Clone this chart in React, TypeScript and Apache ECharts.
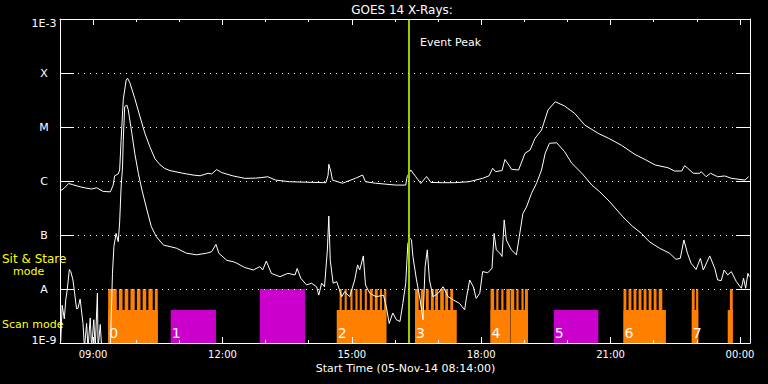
import React, { useEffect, useRef } from 'react';
import * as echarts from 'echarts';

const FONT = '"DejaVu Sans", sans-serif';
const ORANGE = '#ff8000';
const MAGENTA = '#cc00cc';
const PEAK_COLOR = '#99cc00';
const YELLOW = '#ffff00';

// Axis ranges (hours of 05-Nov-14; values >= 24 are next day)
const START_HOUR = 8 + 14 / 60;
const END_HOUR = START_HOUR + 16;
const Y_MIN = 1e-9;
const Y_MAX = 1e-3;
const MODE_MID = 4.1e-9; // top of block base
const MODE_TOP = 1e-8; // top of raster spikes / full blocks

const xMajorHours = [9, 12, 15, 18, 21, 24];
const xTickLabels = ['09:00', '12:00', '15:00', '18:00', '21:00', '00:00'];
const xMinorHours = [9, 10, 11, 12, 13, 14, 15, 16, 17, 18, 19, 20, 21, 22, 23, 24];
const yTickLabels = ['1E-9', 'A', 'B', 'C', 'M', 'X', '1E-3'];

const titleText = 'GOES 14 X-Rays:';
const xAxisTitle = 'Start Time (05-Nov-14 08:14:00)';
const eventPeakTime = '16:20';
const eventPeakLabel = 'Event Peak';

// GOES long channel (1-8 A)
const longTimes = ['08:14','08:20','08:26','08:31','08:42','08:50','08:58','09:05','09:14','09:24','09:28','09:30','09:35','09:37','09:39','09:42','09:46','09:48','09:51','09:58','10:05','10:12','10:19','10:26','10:33','10:40','10:47','11:05','11:19','11:29','11:40','11:45','11:52','11:59','12:15','12:31','12:46','12:55','13:03','13:14','13:33','13:56','14:24','14:27','14:28','14:31','14:33','14:47','15:05','15:15','15:19','15:33','16:01','16:15','16:17','16:22','16:29','16:36','16:44','16:50','17:06','17:23','17:43','18:02','18:11','18:16','18:20','18:29','18:33','18:39','18:42','18:52','19:01','19:08','19:15','19:24','19:33','19:43','19:56','20:10','20:24','20:43','20:57','21:15','21:34','21:48','22:02','22:20','22:29','22:39','22:43','22:47','22:55','23:04','23:06','23:13','23:19','23:29','23:39','23:48','00:07','00:12'];
const longFlux = [6.5e-7,7.4e-7,9.0e-7,8.6e-7,7.8e-7,7.4e-7,7.1e-7,7.5e-7,6.4e-7,6.3e-7,8.4e-7,1.25e-6,1.35e-6,1.6e-6,5.7e-6,3.2e-5,7.4e-5,8.0e-5,6.7e-5,3.4e-5,1.6e-5,7.7e-6,4.3e-6,2.6e-6,2.0e-6,1.7e-6,1.56e-6,1.39e-6,1.29e-6,1.25e-6,1.39e-6,1.35e-6,1.63e-6,1.43e-6,1.24e-6,1.12e-6,1.13e-6,1.16e-6,1.2e-6,1.04e-6,9.7e-7,9.5e-7,9.3e-7,1.29e-6,2.04e-6,1.47e-6,1.04e-6,9.1e-7,1.12e-6,1.29e-6,9.7e-7,9.1e-7,8.4e-7,8.4e-7,1.2e-6,1.6e-6,1.2e-6,9.0e-7,1.21e-6,9.4e-7,9.3e-7,9.3e-7,9.7e-7,1.12e-6,1.25e-6,1.72e-6,1.49e-6,1.56e-6,2.5e-6,1.94e-6,1.65e-6,1.6e-6,3.26e-6,3.75e-6,6.2e-6,8.8e-6,2.07e-5,2.94e-5,2.45e-5,1.79e-5,1.09e-5,7.6e-6,6.2e-6,4.6e-6,3.1e-6,2.5e-6,1.98e-6,1.76e-6,1.53e-6,1.53e-6,1.92e-6,1.74e-6,1.39e-6,1.39e-6,1.49e-6,1.2e-6,1.39e-6,1.2e-6,1.24e-6,1.12e-6,1.04e-6,1.2e-6];

// GOES short channel (0.5-4 A)
const shortTimes = ['08:15','08:17','08:20','08:22','08:24','08:27','08:29','08:32','08:35','08:37','08:39','08:42','08:46','08:48','08:51','08:53','08:56','08:58','09:01','09:03','09:06','09:07','09:10','09:12','09:24','09:27','09:29','09:32','09:35','09:37','09:39','09:41','09:42','09:44','09:47','09:49','09:54','09:58','10:03','10:08','10:15','10:21','10:28','10:38','10:47','10:56','11:10','11:24','11:38','11:45','11:51','11:55','12:06','12:15','12:20','12:31','12:43','12:52','12:56','13:01','13:08','13:20','13:31','13:41','13:44','13:49','13:57','14:04','14:11','14:14','14:18','14:22','14:26','14:28','14:30','14:34','14:39','14:46','14:50','14:57','15:04','15:08','15:11','15:16','15:19','15:25','15:34','15:44','15:48','15:52','15:57','16:02','16:07','16:11','16:15','16:18','16:21','16:23','16:25','16:30','16:35','16:39','16:42','16:45','16:48','16:53','17:00','17:07','17:14','17:21','17:30','17:37','17:39','17:44','17:49','17:53','17:58','18:02','18:09','18:15','18:18','18:21','18:26','18:29','18:32','18:35','18:42','18:49','18:53','18:58','19:03','19:10','19:17','19:24','19:29','19:35','19:45','19:56','20:06','20:20','20:34','20:45','20:59','21:17','21:31','21:43','21:54','22:08','22:22','22:31','22:37','22:42','22:47','22:52','22:59','23:05','23:09','23:18','23:25','23:29','23:34','23:38','23:43','23:48','23:55','00:02','00:05','00:08','00:11','00:13'];
const shortFlux = [1.04e-9,5.0e-9,2.8e-9,6.3e-9,9.6e-9,2.3e-8,2.1e-8,1.47e-8,7.1e-9,4.3e-9,4.4e-9,6.5e-9,2.3e-9,8e-10,2.3e-9,8e-10,2.9e-9,8e-10,2.7e-9,8e-10,8.4e-9,8e-10,2.2e-9,8e-10,8e-10,1.95e-8,6.1e-8,1.07e-7,7.5e-8,1.74e-7,7.7e-7,1.82e-6,5.7e-6,2.38e-5,2.55e-5,2.07e-5,7.6e-6,3.26e-6,1.39e-6,6.8e-7,2.9e-7,1.43e-7,9.3e-8,6.5e-8,6.1e-8,5.7e-8,4.6e-8,4.3e-8,4.6e-8,4.9e-8,6.7e-8,4.6e-8,3.4e-8,3.2e-8,3.0e-8,2.5e-8,2.25e-8,2.6e-8,2.25e-8,3.3e-8,1.95e-8,1.69e-8,1.95e-8,1.82e-8,2.4e-8,1.58e-8,1.19e-8,1.28e-8,1.1e-8,7.7e-9,1.28e-8,1.1e-8,5.3e-8,2.25e-7,3.4e-8,1.28e-8,1.37e-8,7.2e-9,8.9e-9,7.2e-9,1.47e-8,2.8e-8,2.25e-8,4.1e-8,1.19e-8,8.3e-9,7.2e-9,7.7e-9,4.7e-9,2.3e-9,3.6e-9,2.7e-9,2.5e-9,5.4e-9,1.28e-8,7.0e-8,8.7e-8,8.1e-8,4.0e-8,1.47e-8,6.3e-9,2.7e-9,2.6e-8,5.3e-8,1.47e-8,7.2e-9,8.3e-9,1.1e-8,7.2e-9,6.3e-9,5.4e-9,4.1e-9,6.3e-9,1.47e-8,1.1e-8,6.7e-9,8.3e-9,2.1e-8,2.0e-8,2.4e-8,1.07e-7,5.3e-8,4.6e-8,4.0e-8,1.9e-7,8.1e-8,5.3e-8,4.3e-8,9.3e-8,2.5e-7,3.3e-7,5.9e-7,9.1e-7,1.6e-6,3.26e-6,5.0e-6,5.1e-6,3.5e-6,2.13e-6,1.39e-6,8.4e-7,6.3e-7,4.1e-7,2.18e-7,1.43e-7,1.07e-7,7.5e-8,5.7e-8,4.6e-8,3.55e-8,3.7e-8,8.1e-8,4.6e-8,3.0e-8,2.3e-8,3.7e-8,2.25e-8,4.1e-8,2.4e-8,1.47e-8,1.43e-8,2.25e-8,1.82e-8,2.1e-8,1.37e-8,1.03e-8,1.58e-8,1.03e-8,1.95e-8,1.69e-8];

// Scan mode observation blocks: [start, end, label]
const scanBlocks: [string, string, string][] = [
  ['09:21', '10:30', '0'],
  ['14:39', '15:48', '2'],
  ['16:28', '17:26', '3'],
  ['18:13', '18:40', '4'],
  ['18:41', '19:05', ''],
  ['21:18', '22:17', '6'],
  ['22:53', '23:02', '7'],
  ['23:43', '23:50', ''],
];

// Individual rasters in scan mode: [start, end]
const scanRasters: [string, string][] = [
  ['09:21', '09:33'], ['09:36', '09:41'], ['09:44', '09:49'], ['09:52', '09:58'], ['10:01', '10:06'], ['10:09', '10:14'], ['10:17', '10:23'], ['10:26', '10:30'],
  ['14:43', '14:46'], ['14:50', '14:53'], ['14:58', '15:01'], ['15:05', '15:08'], ['15:11', '15:14'], ['15:18', '15:21'], ['15:25', '15:29'], ['15:32', '15:36'], ['15:39', '15:42'], ['15:45', '15:48'],
  ['16:28', '16:33'], ['16:36', '16:40'], ['16:43', '16:47'], ['16:50', '16:54'], ['16:56', '17:00'], ['17:03', '17:08'], ['17:10', '17:14'], ['17:17', '17:21'],
  ['18:13', '18:18'], ['18:21', '18:24'], ['18:28', '18:31'], ['18:35', '18:40'],
  ['18:41', '18:46'], ['18:49', '18:52'], ['18:56', '18:59'], ['19:01', '19:05'],
  ['21:18', '21:22'], ['21:25', '21:29'], ['21:32', '21:36'], ['21:39', '21:43'], ['21:46', '21:50'], ['21:53', '21:57'], ['22:00', '22:04'], ['22:07', '22:12'],
  ['22:53', '22:57'], ['22:59', '23:02'],
  ['23:46', '23:50'],
];

// Sit & stare blocks: [start, end, label, level]
const stareBlocks: [string, string, string, string][] = [
  ['10:48', '11:51', '1', 'low'],
  ['12:52', '13:55', '', 'high'],
  ['19:41', '20:43', '5', 'low'],
];

const toHours = (t: string): number => {
  const [h, m] = t.split(':').map(Number);
  let v = h + m / 60;
  if (h < 8) v += 24;
  return v;
};

const rectItem = (api: any, s: number, e: number, top: number, fill: string) => {
  const p0 = api.coord([s, Y_MIN]);
  const p1 = api.coord([e, top]);
  return {
    type: 'rect',
    shape: { x: p0[0], y: p1[1], width: p1[0] - p0[0], height: p0[1] - p1[1] },
    style: { fill },
  };
};

// all block labels (scan + stare), drawn above the rasters
const blockLabels: [string, string][] = [...scanBlocks, ...stareBlocks]
  .filter((b) => b[2] !== '')
  .map((b) => [b[0], b[2]] as [string, string]);

export default function App() {
  const ref = useRef<HTMLDivElement>(null);

  useEffect(() => {
    if (!ref.current) return;
    const chart = echarts.init(ref.current, null, { renderer: 'svg' });

    const longData = longTimes.map((t, i) => [toHours(t), longFlux[i]]);
    const shortData = shortTimes.map((t, i) => [toHours(t), shortFlux[i]]);

    const xBase = {
      type: 'value',
      min: START_HOUR,
      max: END_HOUR,
      gridIndex: 0,
      z: 10,
      splitLine: { show: false },
    };

    const yBase = {
      type: 'log',
      logBase: 10,
      min: Y_MIN,
      max: Y_MAX,
      gridIndex: 0,
      z: 10,
    };

    const option: any = {
      animation: false,
      backgroundColor: '#000000',
      grid: { left: 60, right: 18, top: 19, bottom: 41, containLabel: false, outerBoundsMode: 'none' },
      xAxis: [
        {
          ...xBase,
          position: 'bottom',
          axisLine: { show: true, lineStyle: { color: '#ffffff', width: 1 } },
          axisTick: { show: true, inside: true, length: 6, customValues: xMajorHours, lineStyle: { color: '#ffffff' } },
          axisLabel: {
            show: true,
            customValues: xMajorHours,
            color: '#ffffff',
            fontSize: 10,
            fontFamily: FONT,
            margin: 6,
            formatter: (v: number) => xTickLabels[xMajorHours.indexOf(Math.round(v))] ?? '',
          },
        },
        {
          ...xBase,
          position: 'bottom',
          axisLine: { show: false },
          axisTick: { show: true, inside: true, length: 3, customValues: xMinorHours, lineStyle: { color: '#ffffff' } },
          axisLabel: { show: false },
        },
        {
          ...xBase,
          position: 'top',
          axisLine: { show: true, lineStyle: { color: '#ffffff', width: 1 } },
          axisTick: { show: true, inside: true, length: 6, customValues: xMajorHours, lineStyle: { color: '#ffffff' } },
          axisLabel: { show: false },
        },
        {
          ...xBase,
          position: 'top',
          axisLine: { show: false },
          axisTick: { show: true, inside: true, length: 3, customValues: xMinorHours, lineStyle: { color: '#ffffff' } },
          axisLabel: { show: false },
        },
      ],
      yAxis: [
        {
          ...yBase,
          position: 'left',
          axisLine: { show: true, lineStyle: { color: '#ffffff', width: 1 } },
          axisTick: { show: true, inside: true, length: 14, lineStyle: { color: '#ffffff' } },
          splitLine: { show: true, lineStyle: { color: '#ffffff', width: 1, type: [1, 5] } },
          axisLabel: {
            show: true,
            showMinLabel: true,
            showMaxLabel: true,
            color: '#ffffff',
            fontSize: 11,
            fontFamily: FONT,
            align: 'center',
            margin: 16,
            formatter: (v: number) => {
              const i = Math.round(Math.log10(v)) + 9;
              const t = yTickLabels[i] ?? '';
              if (i === yTickLabels.length - 1) return `{hi|${t}}`;
              if (i === 0) return `{lo|${t}}`;
              return t;
            },
            rich: {
              hi: { padding: [8, 0, 0, 0], color: '#ffffff', fontSize: 11, fontFamily: FONT },
              lo: { padding: [0, 0, 6, 0], color: '#ffffff', fontSize: 11, fontFamily: FONT },
            },
          },
        },
        {
          ...yBase,
          position: 'right',
          axisLine: { show: true, lineStyle: { color: '#ffffff', width: 1 } },
          axisTick: { show: true, inside: true, length: 14, lineStyle: { color: '#ffffff' } },
          splitLine: { show: false },
          axisLabel: { show: false },
        },
      ],
      graphic: [
        { type: 'text', x: 402, y: 10, style: { text: titleText, fill: '#ffffff', font: `12px ${FONT}`, align: 'center', verticalAlign: 'middle' } },
        { type: 'text', x: 405.5, y: 368, style: { text: xAxisTitle, fill: '#ffffff', font: `11px ${FONT}`, align: 'center', verticalAlign: 'middle' } },
        { type: 'text', x: 420, y: 42.5, z: 20, style: { text: eventPeakLabel, fill: '#ffffff', font: `11px ${FONT}`, align: 'left', verticalAlign: 'middle' } },
        { type: 'text', x: 2, y: 259, style: { text: 'Sit & Stare', fill: YELLOW, font: `12px ${FONT}`, align: 'left', verticalAlign: 'middle' } },
        { type: 'text', x: 13, y: 271, style: { text: 'mode', fill: YELLOW, font: `11px ${FONT}`, align: 'left', verticalAlign: 'middle' } },
        { type: 'text', x: 2, y: 324, style: { text: 'Scan mode', fill: YELLOW, font: `11px ${FONT}`, align: 'left', verticalAlign: 'middle' } },
      ],
      series: [
        {
          type: 'custom',
          name: 'Sit & Stare',
          xAxisIndex: 0,
          yAxisIndex: 0,
          z: 1,
          silent: true,
          data: stareBlocks.map(([s, e, , lvl]) => [toHours(s), toHours(e), lvl === 'high' ? MODE_TOP : MODE_MID]),
          encode: { x: [0, 1], y: 2 },
          renderItem: (_params: any, api: any) => rectItem(api, api.value(0), api.value(1), api.value(2), MAGENTA),
        },
        {
          type: 'custom',
          name: 'Scan blocks',
          xAxisIndex: 0,
          yAxisIndex: 0,
          z: 1,
          silent: true,
          data: scanBlocks.map(([s, e]) => [toHours(s), toHours(e), MODE_MID]),
          encode: { x: [0, 1], y: 2 },
          renderItem: (_params: any, api: any) => rectItem(api, api.value(0), api.value(1), api.value(2), ORANGE),
        },
        {
          type: 'custom',
          name: 'Scan rasters',
          xAxisIndex: 0,
          yAxisIndex: 0,
          z: 1,
          silent: true,
          data: scanRasters.map(([s, e]) => [toHours(s), toHours(e), MODE_TOP]),
          encode: { x: [0, 1], y: 2 },
          renderItem: (_params: any, api: any) => rectItem(api, api.value(0), api.value(1), api.value(2), ORANGE),
        },
        {
          type: 'custom',
          name: 'Block labels',
          xAxisIndex: 0,
          yAxisIndex: 0,
          z: 2,
          silent: true,
          data: blockLabels.map(([s]) => [toHours(s), Y_MIN]),
          encode: { x: 0, y: 1 },
          renderItem: (params: any, api: any) => {
            const p0 = api.coord([api.value(0), api.value(1)]);
            return {
              type: 'text',
              x: p0[0] + 1,
              y: p0[1] - 10.5,
              style: {
                text: blockLabels[params.dataIndex][1],
                fill: '#ffffff',
                font: `14px ${FONT}`,
                align: 'left',
                verticalAlign: 'middle',
              },
            };
          },
        },
        {
          type: 'line',
          name: 'GOES 1-8 A',
          xAxisIndex: 0,
          yAxisIndex: 0,
          z: 3,
          silent: true,
          symbol: 'none',
          showSymbol: false,
          data: longData,
          lineStyle: { color: '#ffffff', width: 1 },
          markLine: {
            silent: true,
            symbol: ['none', 'none'],
            label: { show: false },
            lineStyle: { color: PEAK_COLOR, width: 2, type: 'solid' },
            data: [{ xAxis: toHours(eventPeakTime) }],
          },
        },
        {
          type: 'line',
          name: 'GOES 0.5-4 A',
          xAxisIndex: 0,
          yAxisIndex: 0,
          z: 3,
          silent: true,
          symbol: 'none',
          showSymbol: false,
          data: shortData,
          lineStyle: { color: '#ffffff', width: 1 },
        },
      ],
    };

    chart.setOption(option);
    return () => chart.dispose();
  }, []);

  return (
    <div
      ref={ref}
      style={{ position: 'fixed', left: 0, top: 0, width: 768, height: 384, background: '#000' }}
    />
  );
}
